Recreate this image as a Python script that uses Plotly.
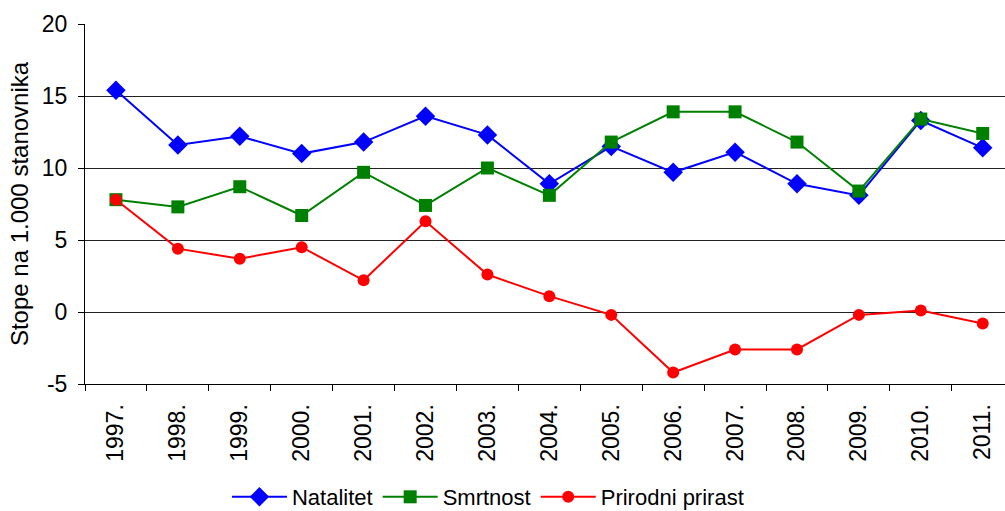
import plotly.graph_objects as go

years = ["1997.", "1998.", "1999.", "2000.", "2001.", "2002.", "2003.", "2004.",
         "2005.", "2006.", "2007.", "2008.", "2009.", "2010.", "2011."]
natalitet = [15.4, 11.6, 12.2, 11.0, 11.8, 13.6, 12.3, 8.9, 11.5, 9.7, 11.1, 8.9, 8.1, 13.3, 11.4]
smrtnost = [7.8, 7.3, 8.7, 6.7, 9.7, 7.4, 10.0, 8.1, 11.8, 13.9, 13.9, 11.8, 8.4, 13.4, 12.4]
prirast = [7.8, 4.4, 3.7, 4.5, 2.2, 6.3, 2.6, 1.1, -0.2, -4.2, -2.6, -2.6, -0.2, 0.1, -0.8]
y_tickvals = [-5, 0, 5, 10, 15, 20]
y_ticktext = ["-5", "0", "5", "10", "15", "20"]

fig = go.Figure()
fig.add_trace(go.Scatter(x=years, y=natalitet, name="Natalitet", mode="lines+markers",
                         line=dict(color="#0000FF", width=2),
                         marker=dict(symbol="diamond", size=15, color="#0000FF")))
fig.add_trace(go.Scatter(x=years, y=smrtnost, name="Smrtnost", mode="lines+markers",
                         line=dict(color="#008000", width=2),
                         marker=dict(symbol="square", size=13, color="#008000")))
fig.add_trace(go.Scatter(x=years, y=prirast, name="Prirodni prirast", mode="lines+markers",
                         line=dict(color="#FF0000", width=2),
                         marker=dict(symbol="circle", size=12, color="#FF0000")))

fig.update_layout(
    width=1005, height=530,
    margin=dict(l=85, r=0, t=24, b=146),
    paper_bgcolor="white", plot_bgcolor="white",
    font=dict(family="Liberation Sans, Arial, sans-serif", color="black", size=22),
    showlegend=True,
    legend=dict(orientation="h", x=0.438, xanchor="center", y=-0.3139, yanchor="middle",
                font=dict(size=22), itemwidth=55, tracegroupgap=0),
    xaxis=dict(type="category", range=[-0.5, 14.36], showgrid=False, automargin=False,
               showline=True, linecolor="black", linewidth=1,
               ticks="outside", tickson="boundaries", ticklen=6, tickcolor="black",
               tickangle=-90, tickfont=dict(size=23), ticklabelstandoff=10),
    yaxis=dict(range=[-5, 20], tickmode="array", tickvals=y_tickvals, ticktext=y_ticktext,
               showgrid=True, gridcolor="#222222", gridwidth=1,
               automargin=False,
               zeroline=True, zerolinecolor="#222222", zerolinewidth=1,
               showline=True, linecolor="black", linewidth=1,
               ticks="outside", ticklen=6, tickcolor="black",
               tickfont=dict(size=23), ticklabelstandoff=6,
               title=dict(text="Stope na 1.000 stanovnika", font=dict(size=24), standoff=6)),
)

fig.write_html(
    "out.html",
    config={"displayModeBar": False},
    post_script="document.body.style.margin='0';document.body.style.overflow='hidden';",
)
